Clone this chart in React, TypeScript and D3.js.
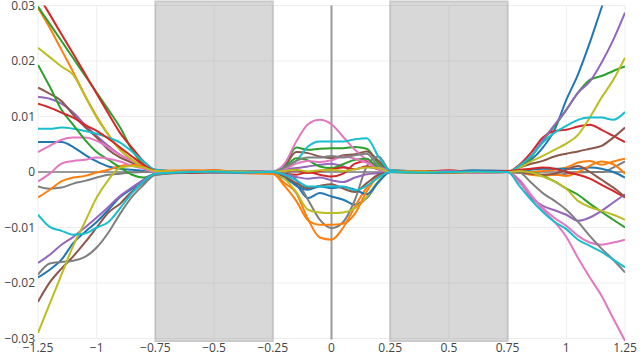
import React from "react";
import * as d3 from "d3";

// x positions shared by all traces
const xs = [
  -1.25, -1.2, -1.15, -1.1, -1.05, -1.0, -0.95, -0.9, -0.85, -0.8, -0.75,
  -0.6, -0.5, -0.4,
  -0.25, -0.2, -0.15, -0.1, -0.05, 0, 0.05, 0.1, 0.15, 0.2, 0.25,
  0.4, 0.5, 0.6,
  0.75, 0.8, 0.85, 0.9, 0.95, 1.0, 1.05, 1.1, 1.15, 1.2, 1.25,
];

// values in thousandths (1 = 0.001)
const blue1 = [5.4, 5.4, 5.4, 4.5, 3.1, 1.9, 1.0, 0.6, 0.4, 0.2, 0.0, 0.2, -0.1, 0.1, -0.2, -1.2, -2.3, -4.7, -3.8, -4.4, -5.0, -5.9, -4.7, -1.8, 0.0, 0.1, -0.2, 0.1, 0.0, 0.9, 2.2, 4.4, 7.6, 13.0, 17.6, 23.3, 29.6, 35.7, 41.8];
const orange1 = [29.6, 26, 22, 18, 13.8, 10, 6.7, 4, 2.2, 1, 0.2, 0.3, 0.1, -0.2, -0.3, -2, -3.8, -8.5, -11.8, -12.2, -10, -6.2, -2.8, -0.8, 0, -0.2, 0.1, 0.2, 0, 0.2, 0, 0.2, 0.4, 0.8, 1.7, 2, 1.3, 1.9, 2.4];
const green1 = [29.8, 26.7, 23.6, 20.5, 17.4, 14.3, 11.2, 8, 4, 1.3, 0, -0.1, 0.2, 0.1, 0, 1.2, 4.4, 4, 4.2, 4.3, 4.3, 4.5, 4.2, 1.5, 0.2, 0, -0.2, 0.1, 0, 1.1, 2.7, 5.6, 8.3, 11.2, 14.3, 16.6, 17.3, 18.2, 19];
const red1 = [31.9, 28.4, 24.8, 21.3, 17.7, 14.1, 10.5, 7, 4.4, 1.9, 0.4, 0, 0.3, -0.1, 0, -0.3, -0.5, 0, -0.5, -0.8, -0.3, 1.5, 2, 0.8, 0, 0.2, -0.1, 0.2, 0, 1.3, 3.5, 6.2, 7.4, 7.6, 8.2, 8.5, 7.6, 6.5, 5.4];
const purple1 = [13.5, 13.2, 12.3, 10.7, 8.5, 6.5, 4.7, 3.1, 1.9, 0.8, 0, 0.1, 0, -0.2, 0, 0.5, 0.7, 1, 1.3, 1.5, 1, 0.5, 1, 0.5, 0, 0, 0.2, -0.1, 0, 1.1, 2.9, 5.8, 8.5, 11.2, 14.3, 16.3, 19.7, 23.8, 28.7];
const brown1 = [15.2, 14.1, 12.8, 10.3, 8.1, 6.2, 4, 2.6, 1.7, 0.8, 0.2, 0.2, 0.1, 0, 0, 1, 3.6, 3.4, 2.8, 2.5, 3, 3.2, 3.7, 2, 0.3, 0.1, 0, 0.2, 0, 0.8, 1.5, 2, 2.8, 3.3, 3.7, 4.2, 4.7, 6.2, 8];
const pink1 = [3.6, 4.7, 5.8, 6.2, 6.2, 5.6, 4.4, 3.1, 2, 1, 0.2, 0, 0.2, -0.1, 0.1, 1.5, 5.5, 8.6, 9.4, 8.6, 6.3, 4, 2.2, 1, 0.2, 0.1, -0.1, 0, 0, -1.4, -4.1, -6.8, -9, -11.7, -15.5, -19, -22.3, -26.4, -30.4];
const gray1 = [-2.6, -3, -2.8, -2.1, -1.6, -1, -0.5, -0.3, -0.1, 0, 0, 0, 0.1, -0.1, 0, 0.2, -1.4, -5, -8.6, -10.1, -9, -5, 1.0, 2.8, 0.3, 0.1, 0, 0.1, 0, -0.1, -0.3, -0.5, -0.5, -0.3, -0.1, 0, 0, 0.8, 1.9];
const olive1 = [22.4, 20.7, 19, 17.5, 13.7, 9.8, 6.7, 4, 2.2, 0.8, 0, 0.1, 0, 0.2, -0.2, -1.2, -3.6, -6.8, -7.3, -7.4, -7.3, -6.5, -4.5, -1.6, 0, 0, 0.1, -0.1, 0, 0.8, 1.9, 2.9, 4, 5.1, 6.7, 9.8, 13.4, 16.6, 20.6];
const cyan1 = [7.8, 7.8, 8, 7.8, 7.4, 6.9, 6.2, 5.3, 3.7, 1.9, 0.4, 0, -0.1, 0.1, 0.1, 0.8, 2, 4.6, 5.5, 5.5, 5.5, 5.9, 6.1, 2.8, 0.3, 0.1, 0, -0.1, 0, 1.1, 2.9, 5.3, 7.1, 8.3, 9.4, 9.8, 9.8, 9.4, 10.8];
const blue2 = [-19, -17.6, -15.8, -12.8, -10.8, -9, -6.8, -4.5, -3, -1.4, -0.3, 0.1, 0.2, -0.1, 0, -0.8, -2.5, -3.2, -2.6, -2.9, -2.7, -3.2, -4, -1.8, 0, 0.2, 0.1, 0.3, 0.2, 0.2, 0.4, 0.6, 0.6, 0.6, 0.6, 0.8, 0.6, 0, -1];
const orange2 = [-4.6, -3.2, -1.7, -1, -0.7, -0.1, 0.4, 1.1, 1.3, 1, 0.2, 0.2, 0.3, 0, -0.3, -2.5, -5.2, -8.7, -9.5, -9.5, -9.3, -7.5, -3.5, -0.8, 0, 0.2, 0, -0.1, 0, -0.1, -0.5, -0.7, -0.5, -0.7, 0, 1.1, 1.9, 1.4, -0.3];
const green2 = [19.3, 15.4, 11.2, 8.5, 5.8, 3.6, 2.2, 0.8, -0.5, -1, -0.3, 0.1, -0.2, 0, 0, 0.8, 2.5, 2.1, 1, 0.7, 1.4, 2.2, 2.4, 0.6, 0, -0.1, 0.1, 0, 0, 0, -0.1, -0.7, -1.7, -3, -4.1, -5.7, -7.2, -8.6, -10];
const red2 = [12.3, 11.6, 10.7, 9.8, 8.5, 7.4, 6, 4.4, 2.8, 1.3, 0.2, -0.2, 0, 0.2, 0, 0.2, 0.3, -0.2, 0.2, 0.5, 0.8, 0.5, 1, 0.5, 0, 0.1, 0.3, 0, 0.2, 0.4, 0.6, 0.8, 0.6, 0, -0.5, -1.2, -2.3, -3.4, -4.6];
const purple2 = [-16.4, -14.9, -13.1, -11.7, -10, -8.2, -6.3, -4.3, -2.8, -1.4, -0.3, 0, -0.1, 0.2, 0, -0.4, -0.9, -1.2, -1.0, -1.5, -1.8, -1.0, -0.4, -0.2, 0, 0, 0.2, -0.1, 0, -1.7, -4.6, -6.1, -6.9, -7.7, -8.8, -8.2, -7.0, -5.5, -4.0];
const brown2 = [-23.4, -19.9, -17.4, -15.2, -12.7, -10, -7.3, -5.7, -3.5, -1.9, -0.5, -0.1, 0.1, 0, 0, -0.8, -2, -2.9, -2.5, -2.2, -3, -3.6, -2, -0.5, 0, 0, -0.2, 0.1, 0, -0.1, -0.3, -0.5, -0.3, 0.4, 1.1, 0, -1.4, -2.8, -4.5];
const pink2 = [-1.7, -0.3, 1.5, 2.0, 2.2, 2.6, 2.4, 1.9, 1.1, 0.6, 0, 0.1, -0.1, 0, 0, 0.5, 1.5, 2, 1.8, 2.1, 2.8, 2.4, 1.7, 0.5, 0, 0, 0.1, -0.1, 0, -1.9, -4.3, -6.5, -8.3, -9.7, -11.5, -12.7, -13.1, -12.7, -12.2];
const gray2 = [-18.5, -16.5, -16.2, -16, -15.3, -13.6, -10.9, -7.5, -4.5, -2.3, -0.5, 0, -0.1, 0.1, 0, 0.8, 2, 2.6, 2.6, 2.9, 2.6, 3, 3.3, 1, 0, 0, 0.1, 0, 0, -0.1, -1.9, -3.8, -5.2, -6.8, -9, -11.5, -13.8, -15.8, -18.1];
const olive2 = [-29, -23.7, -18.5, -13.3, -9, -4.6, -1.4, 0.8, 1.1, 0.8, 0.2, 0, 0.2, 0.1, 0, 0.2, 0.4, 0.1, 0.3, 0.4, 0.2, 0.5, 0.8, 0.7, 0, 0.1, -0.1, 0, 0, 0.2, -0.1, -0.8, -1.7, -3, -5.2, -6.3, -7, -7.7, -8.6];
const cyan2 = [-7.7, -9.9, -10.6, -11.3, -11.1, -10, -9, -6.5, -3.8, -1.7, -0.3, 0, 0.1, -0.1, 0, -0.5, -1.5, -2.6, -2.6, -2.6, -2.6, -3.3, -2.5, -1, 0, -0.1, 0, 0.1, 0, -2.5, -5, -7.2, -9, -10.3, -12.2, -13.3, -14.4, -15.8, -17.2];

const series = [blue1, orange1, green1, red1, purple1, brown1, pink1, gray1, olive1, cyan1,
  blue2, orange2, green2, red2, purple2, brown2, pink2, gray2, olive2, cyan2];
const colors = ["#1f77b4", "#ff7f0e", "#2ca02c", "#d62728", "#9467bd", "#8c564b", "#e377c2", "#7f7f7f", "#bcbd22", "#17becf"];

const xTicks = [-1.25, -1, -0.75, -0.5, -0.25, 0, 0.25, 0.5, 0.75, 1, 1.25];
const yTicks = [-0.03, -0.02, -0.01, 0, 0.01, 0.02, 0.03];
const shadedBands = [[-0.75, -0.25], [0.25, 0.75]];

const W = 640, H = 354;
const L = 38, R = 625, T = 5.5, B = 338.5;

export default function App() {
  const x = d3.scaleLinear().domain([-1.25, 1.25]).range([L, R]);
  const y = d3.scaleLinear().domain([-0.03, 0.03]).range([B, T]);
  const fmt = d3.format("~g");
  const line = d3
    .line<number>()
    .x((_, i) => x(xs[i]))
    .y((v) => y(v / 1000))
    .curve(d3.curveMonotoneX);
  const font = "'Open Sans', 'Noto Sans', sans-serif";
  return (
    <svg width={W} height={H} style={{ position: "absolute", left: 0, top: 0, background: "#fff" }}>
      <defs>
        <clipPath id="plotclip">
          <rect x={L} y={T} width={R - L} height={H - T} />
        </clipPath>
      </defs>
      {xTicks.map((t) => (
        <line key={"gx" + t} x1={x(t)} x2={x(t)} y1={T} y2={B} stroke="#eee" strokeWidth={1} />
      ))}
      {yTicks.map((t) => (
        <line key={"gy" + t} x1={L} x2={R} y1={y(t)} y2={y(t)} stroke="#eee" strokeWidth={1} />
      ))}
      {shadedBands.map(([a, b]) => (
        <g key={"sb" + a} opacity={0.3}>
          <rect x={x(a)} y={1.5} width={x(b) - x(a)} height={339.5} fill="#808080" stroke="#555" strokeWidth={2} />
        </g>
      ))}
      <line x1={L} x2={R} y1={y(0)} y2={y(0)} stroke="#999" strokeWidth={2} />
      <line x1={x(0)} x2={x(0)} y1={T} y2={B + 1} stroke="#999" strokeWidth={2} />
      <g clipPath="url(#plotclip)">
        {series.map((s, i) => (
          <path key={i} d={line(s) || ""} fill="none" stroke={colors[i % 10]} strokeWidth={2} strokeLinejoin="round" />
        ))}
      </g>
      {xTicks.map((t) => (
        <text key={"tx" + t} x={x(t)} y={351.5} textAnchor="middle" fontFamily={font} fontSize={12} fill="#444">
          {fmt(t)}
        </text>
      ))}
      {yTicks.map((t) => (
        <text key={"ty" + t} x={35} y={y(t) + 4.2} textAnchor="end" fontFamily={font} fontSize={12} fill="#444">
          {fmt(t)}
        </text>
      ))}
    </svg>
  );
}
